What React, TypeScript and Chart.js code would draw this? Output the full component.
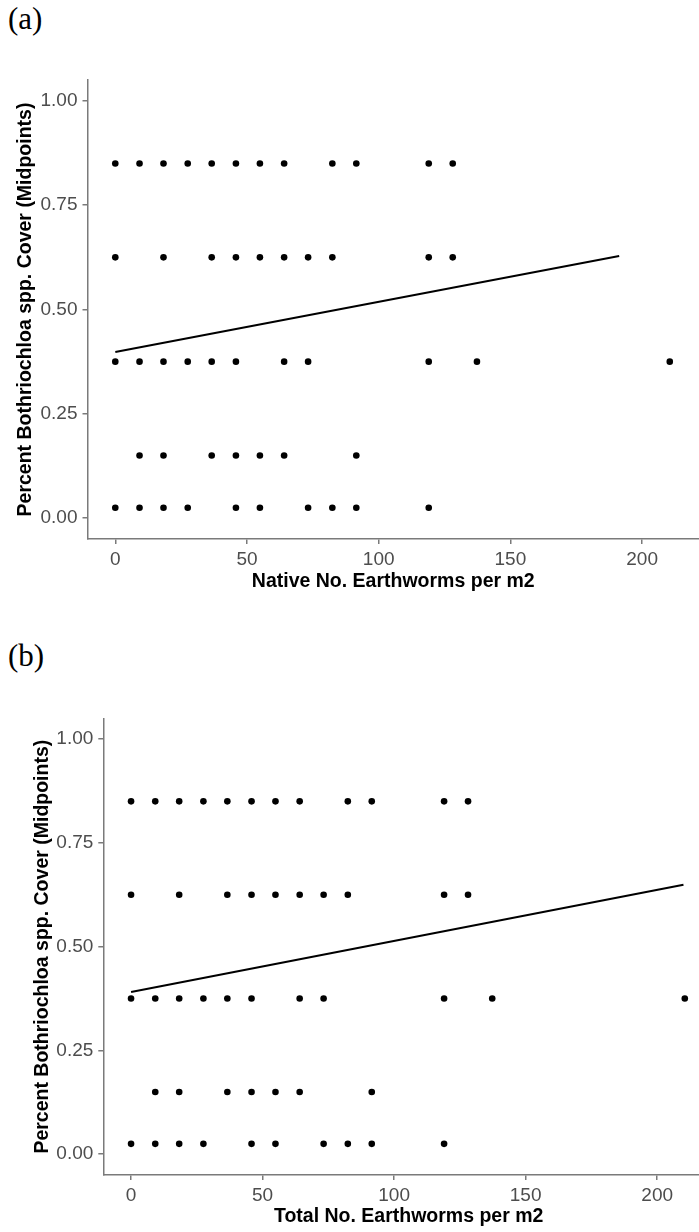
import React, { useEffect, useRef } from "react";
import { Chart, registerables } from "chart.js";

Chart.register(...registerables);

// ---------- Panel (a): native earthworms ----------
const nativeWorms = [
  0, 9.2, 18.3, 27.5, 36.6, 45.8, 54.9, 64.1, 82.4, 91.5, 119.0, 128.1,
  0, 18.3, 36.6, 45.8, 54.9, 64.1, 73.2, 82.4, 119.0, 128.1,
  0, 9.2, 18.3, 27.5, 36.6, 45.8, 64.1, 73.2, 119.0, 137.3, 210.5,
  9.2, 18.3, 36.6, 45.8, 54.9, 64.1, 91.5,
  0, 9.2, 18.3, 27.5, 45.8, 54.9, 73.2, 82.4, 91.5, 119.0,
];
const nativeCover = [
  0.85, 0.85, 0.85, 0.85, 0.85, 0.85, 0.85, 0.85, 0.85, 0.85, 0.85, 0.85,
  0.625, 0.625, 0.625, 0.625, 0.625, 0.625, 0.625, 0.625, 0.625, 0.625,
  0.375, 0.375, 0.375, 0.375, 0.375, 0.375, 0.375, 0.375, 0.375, 0.375, 0.375,
  0.15, 0.15, 0.15, 0.15, 0.15, 0.15, 0.15,
  0.025, 0.025, 0.025, 0.025, 0.025, 0.025, 0.025, 0.025, 0.025, 0.025,
];
const nativeFitX = [0, 191.3];
const nativeFitY = [0.398, 0.628];

// ---------- Panel (b): total earthworms ----------
const totalWorms = [
  0, 9.2, 18.3, 27.5, 36.6, 45.8, 54.9, 64.1, 82.4, 91.5, 119.0, 128.1,
  0, 18.3, 36.6, 45.8, 54.9, 64.1, 73.2, 82.4, 119.0, 128.1,
  0, 9.2, 18.3, 27.5, 36.6, 45.8, 64.1, 73.2, 119.0, 137.3, 210.5,
  9.2, 18.3, 36.6, 45.8, 54.9, 64.1, 91.5,
  0, 9.2, 18.3, 27.5, 45.8, 54.9, 73.2, 82.4, 91.5, 119.0,
];
const totalCover = [
  0.85, 0.85, 0.85, 0.85, 0.85, 0.85, 0.85, 0.85, 0.85, 0.85, 0.85, 0.85,
  0.625, 0.625, 0.625, 0.625, 0.625, 0.625, 0.625, 0.625, 0.625, 0.625,
  0.375, 0.375, 0.375, 0.375, 0.375, 0.375, 0.375, 0.375, 0.375, 0.375, 0.375,
  0.15, 0.15, 0.15, 0.15, 0.15, 0.15, 0.15,
  0.025, 0.025, 0.025, 0.025, 0.025, 0.025, 0.025, 0.025, 0.025, 0.025,
];
const totalFitX = [0, 210.0];
const totalFitY = [0.391, 0.649];

// ---------- Axes ----------
const xTicks = [0, 50, 100, 150, 200];
const yTicks = [0, 0.25, 0.5, 0.75, 1.0];
const yTitle = "Percent Bothriochloa spp. Cover (Midpoints)";
const xTitleA = "Native No. Earthworms per m2";
const xTitleB = "Total No. Earthworms per m2";

const SANS = "'Liberation Sans', Arial, sans-serif";
const AXIS_COLOR = "#7a7a7a";
const TICK_TEXT = "#4d4d4d";

type PanelProps = {
  xs: number[];
  ys: number[];
  fitX: number[];
  fitY: number[];
  xTitle: string;
  width: number;
  height: number;
  top: number;
  padTop: number;
  yAxisW: number;
  xAxisH: number;
  yTitlePad: number;
  xTitlePad: number;
};

function Panel(p: PanelProps) {
  const ref = useRef<HTMLCanvasElement | null>(null);
  useEffect(() => {
    if (!ref.current) return;
    const chart = new Chart(ref.current, {
      type: "scatter",
      data: {
        datasets: [
          {
            type: "scatter",
            data: p.xs.map((x, i) => ({ x, y: p.ys[i] })),
            pointRadius: 3.3,
            pointBackgroundColor: "#000",
            pointBorderWidth: 0,
            pointBorderColor: "#000",
            order: 2,
          },
          {
            type: "line",
            data: p.fitX.map((x, i) => ({ x, y: p.fitY[i] })),
            borderColor: "#000",
            borderWidth: 2,
            pointRadius: 0,
            fill: false,
            tension: 0,
            order: 1,
          },
        ],
      } as any,
      options: {
        animation: false,
        responsive: false,
        events: [],
        layout: {
          autoPadding: false,
          padding: { top: p.padTop, left: 0, right: 0, bottom: 0 },
        },
        plugins: { legend: { display: false }, tooltip: { enabled: false } },
        scales: {
          x: {
            type: "linear",
            min: -10.55,
            max: 221.6,
            afterBuildTicks: (s: any) => {
              s.ticks = xTicks.map((v) => ({ value: v }));
            },
            afterFit: (s: any) => {
              s.height = p.xAxisH;
              s.paddingLeft = 0;
              s.paddingRight = 0;
              s.paddingTop = 0;
              s.paddingBottom = 0;
            },
            ticks: {
              color: TICK_TEXT,
              font: { family: SANS, size: 19 },
              padding: 4,
              maxRotation: 0,
              autoSkip: false,
              callback: (v: any) => String(v),
            },
            grid: {
              display: true,
              drawOnChartArea: false,
              drawTicks: true,
              tickLength: 5,
              color: AXIS_COLOR,
              lineWidth: 1.5,
            },
            border: { display: true, color: AXIS_COLOR, width: 1.5 },
            title: {
              display: true,
              text: p.xTitle,
              color: "#000",
              font: { family: SANS, size: 19.5, weight: "bold" },
              padding: { top: 0, bottom: p.xTitlePad },
            },
          },
          y: {
            type: "linear",
            min: -0.05,
            max: 1.05,
            afterBuildTicks: (s: any) => {
              s.ticks = yTicks.map((v) => ({ value: v }));
            },
            afterFit: (s: any) => {
              s.width = p.yAxisW;
              s.paddingLeft = 0;
              s.paddingRight = 0;
              s.paddingTop = 0;
              s.paddingBottom = 0;
            },
            ticks: {
              color: TICK_TEXT,
              font: { family: SANS, size: 19 },
              padding: 5,
              autoSkip: false,
              callback: (v: any) => Number(v).toFixed(2),
            },
            grid: {
              display: true,
              drawOnChartArea: false,
              drawTicks: true,
              tickLength: 5,
              color: AXIS_COLOR,
              lineWidth: 1.5,
            },
            border: { display: true, color: AXIS_COLOR, width: 1.5 },
            title: {
              display: true,
              text: yTitle,
              color: "#000",
              font: { family: SANS, size: 19.5, weight: "bold" },
              padding: { top: p.yTitlePad, bottom: 0 },
            },
          },
        },
      } as any,
    });
    return () => chart.destroy();
  }, []);
  return (
    <canvas
      ref={ref}
      width={p.width}
      height={p.height}
      style={{ position: "absolute", left: 0, top: p.top, width: p.width, height: p.height }}
    />
  );
}

const labelStyle: React.CSSProperties = {
  position: "absolute",
  left: 8,
  fontFamily: "'Liberation Serif', 'Times New Roman', serif",
  fontSize: 31,
  lineHeight: "normal",
  color: "#000",
  margin: 0,
};

export default function App() {
  return (
    <div
      style={{
        position: "absolute",
        left: 0,
        top: 0,
        width: 699,
        height: 1232,
        overflow: "hidden",
        background: "#fff",
      }}
    >
      <div style={{ ...labelStyle, top: 1 }}>(a)</div>
      <Panel
        xs={nativeWorms}
        ys={nativeCover}
        fitX={nativeFitX}
        fitY={nativeFitY}
        xTitle={xTitleA}
        width={699}
        height={600}
        top={0}
        padTop={80}
        yAxisW={87.5}
        xAxisH={61}
        yTitlePad={14.3}
        xTitlePad={6.8}
      />
      <div style={{ ...labelStyle, top: 638 }}>(b)</div>
      <Panel
        xs={totalWorms}
        ys={totalCover}
        fitX={totalFitX}
        fitY={totalFitY}
        xTitle={xTitleB}
        width={714}
        height={612}
        top={620}
        padTop={98.3}
        yAxisW={103.3}
        xAxisH={57}
        yTitlePad={30.8}
        xTitlePad={3.8}
      />
    </div>
  );
}
